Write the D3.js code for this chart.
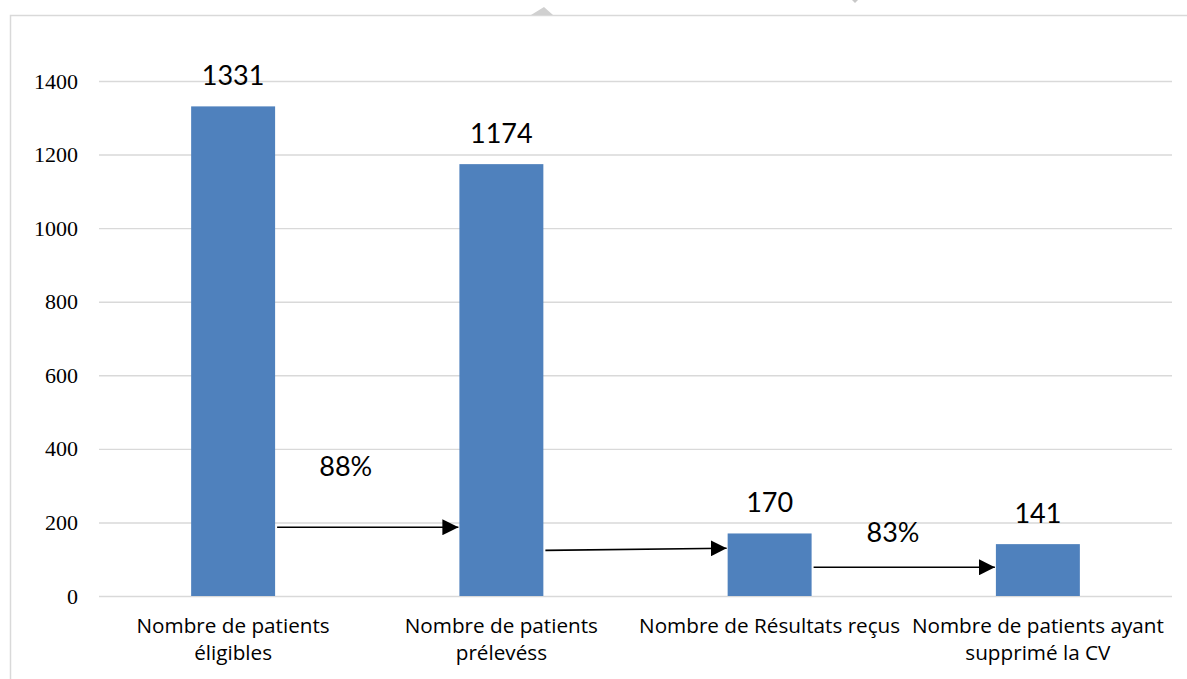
<!DOCTYPE html>
<html>
<head>
<meta charset="utf-8">
<script src="https://cdn.jsdelivr.net/npm/d3@7"></script>
<style>
	body { margin: 0; background: #fff; }
	.grid line { stroke: #d9d9d9; stroke-width: 1.4; }
	.grid .domain { display: none; }
	.axis--y text { font-family: 'Liberation Serif', serif; font-size: 22px; fill: #000; }
	.axis--y .domain, .axis--y line { display: none; }
	.catLabel { font-family: 'Open Sans', sans-serif; font-size: 20.7px; fill: #000; }
	.valLabel, .pctLabel { font-family: Lato, sans-serif; font-size: 27px; fill: #000; }
</style>
</head>
<body>
<svg id="chart"></svg>
<script>
const categories = ['Nombre de patients éligibles', 'Nombre de patients prélevéss',
					'Nombre de Résultats reçus', 'Nombre de patients ayant supprimé la CV'];
// label lines, as they are broken in the picture
const categoryLines = [['Nombre de patients', 'éligibles'],
					   ['Nombre de patients', 'prélevéss'],
					   ['Nombre de Résultats reçus'],
					   ['Nombre de patients ayant', 'supprimé la CV']];
const values = [1331, 1174, 170, 141];
const yTicks = [0, 200, 400, 600, 800, 1000, 1200, 1400];

// arrows between bars: from category, to category, value at start, value at end
const arrowFrom = [0, 1, 2];
const arrowTo = [1, 2, 3];
const arrowStart = [187, 124, 78];
const arrowEnd = [187, 130, 78];
// percentages written next to the arrows
const pctText = ['88%', '83%'];
const pctCat = [0.42, 2.46];   // position along the category axis (in category units)
const pctValue = [326, 148];

const W = 1187, H = 679;
const margin = {top: 81, left: 99, right: 15, bottom: 83};
const width = 1172 - margin.left;
const height = 596 - margin.top;

const svg = d3.select('#chart').attr('width', W).attr('height', H);

// outer frame
svg.append('rect')
	.attr('x', 10.5).attr('y', 15.5)
	.attr('width', W + 10).attr('height', H + 10)
	.attr('fill', 'none').attr('stroke', '#d9d9d9').attr('stroke-width', 1.5);
// small marks above the frame
svg.append('path').attr('d', 'M531,15 L544,7 L553,15 Z').attr('fill', '#d0d0d0');
svg.append('path').attr('d', 'M852,0 L858,0 L855,3 Z').attr('fill', '#c8c8c8');

const g = svg.append('g').attr('transform', 'translate(' + margin.left + ',' + margin.top + ')');

const scaleX = d3.scaleBand()
	.domain(d3.range(categories.length))
	.range([0, width])
	.paddingInner(0.687)
	.paddingOuter(0.3435);

const scaleY = d3.scaleLinear()
	.domain([0, 1400])
	.range([height, 0]);

// continuous position along categories (0 = left edge of band area of cat 0)
const step = width / categories.length;
const catX = c => c * step;

g.append('g')
	.attr('class', 'grid')
	.call(d3.axisLeft(scaleY).tickValues(yTicks).tickSize(-width).tickFormat(''));

g.append('g')
	.attr('class', 'axis axis--y')
	.attr('transform', 'translate(-21,0)')
	.call(d3.axisLeft(scaleY).tickValues(yTicks).tickSize(0).tickPadding(0).tickFormat(d3.format('d')))
	.selectAll('text').attr('dy', '0.32em');

g.selectAll('.bar')
	.data(values)
	.enter()
	.append('rect')
	.attr('class', 'bar')
	.attr('x', (d, i) => scaleX(i))
	.attr('y', d => scaleY(d))
	.attr('width', scaleX.bandwidth())
	.attr('height', d => height - scaleY(d))
	.attr('fill', '#4f81bd');

g.selectAll('.valLabel')
	.data(values)
	.enter()
	.append('text')
	.attr('class', 'valLabel')
	.attr('text-anchor', 'middle')
	.attr('x', (d, i) => scaleX(i) + scaleX.bandwidth() / 2)
	.attr('y', d => scaleY(d) - 21)
	.text(d => d);

const cat = g.selectAll('.catLabel')
	.data(categoryLines)
	.enter()
	.append('text')
	.attr('class', 'catLabel')
	.attr('text-anchor', 'middle')
	.attr('transform', (d, i) => 'translate(' + (scaleX(i) + scaleX.bandwidth() / 2) + ',' + (height + 37) + ')');

cat.selectAll('tspan')
	.data(d => d)
	.enter()
	.append('tspan')
	.attr('x', 0)
	.attr('y', (d, i) => i * 27)
	.text(d => d);

svg.append('defs').append('marker')
	.attr('id', 'head')
	.attr('viewBox', '0 0 16 16')
	.attr('refX', 16).attr('refY', 8)
	.attr('markerWidth', 16).attr('markerHeight', 16)
	.attr('markerUnits', 'userSpaceOnUse')
	.attr('orient', 'auto')
	.append('path')
	.attr('d', 'M0,0 L16,8 L0,16 Z')
	.attr('fill', '#000');

g.selectAll('.arrow')
	.data(arrowFrom)
	.enter()
	.append('line')
	.attr('class', 'arrow')
	.attr('x1', (d, i) => scaleX(d) + scaleX.bandwidth() + 2)
	.attr('x2', (d, i) => scaleX(arrowTo[i]) - 1)
	.attr('y1', (d, i) => scaleY(arrowStart[i]))
	.attr('y2', (d, i) => scaleY(arrowEnd[i]))
	.attr('stroke', '#000')
	.attr('stroke-width', 1.6)
	.attr('marker-end', 'url(#head)');

g.selectAll('.pctLabel')
	.data(pctText)
	.enter()
	.append('text')
	.attr('class', 'pctLabel')
	.attr('text-anchor', 'middle')
	.attr('x', (d, i) => catX(pctCat[i]) + step / 2)
	.attr('y', (d, i) => scaleY(pctValue[i]))
	.text(d => d);
</script>
</body>
</html>
